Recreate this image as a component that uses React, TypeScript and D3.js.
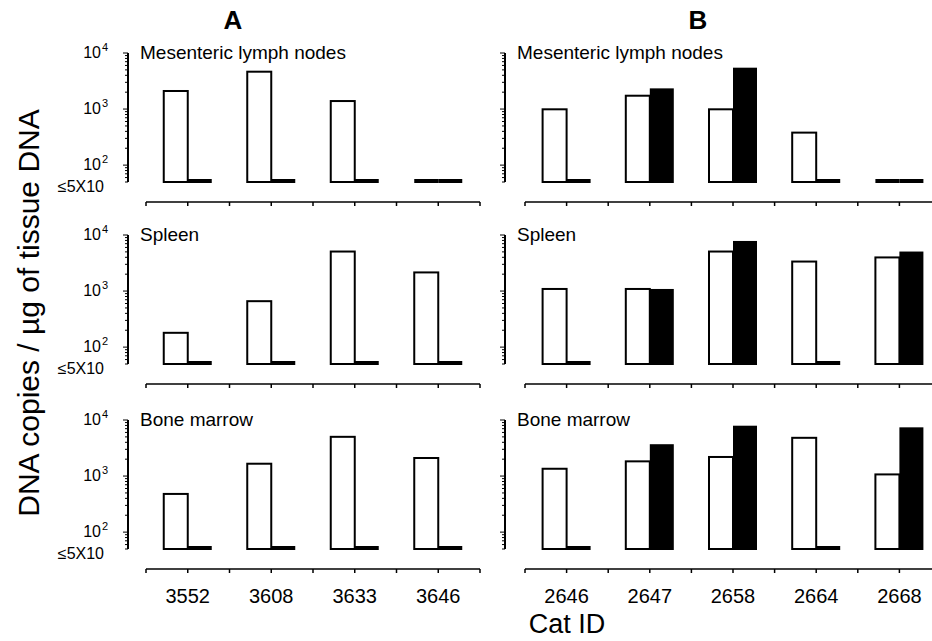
import { useEffect, useRef } from "react";
import * as d3 from "d3";

// Cat IDs per group
const catsA = ["3552", "3608", "3633", "3646"];
const catsB = ["2646", "2647", "2658", "2664", "2668"];
const tissues = ["Mesenteric lymph nodes", "Spleen", "Bone marrow"];

// DNA copies / ug; null = below detection (<=5X10)
// group A: open bars / filled bars, rows = tissues
const openA = [
  [2100, 4640, 1390, null],
  [180, 660, 5070, 2150],
  [480, 1660, 5010, 2100],
];
const filledA = [
  [null, null, null, null],
  [null, null, null, null],
  [null, null, null, null],
];
const openB = [
  [990, 1730, 990, 380, null],
  [1090, 1090, 5070, 3360, 3980],
  [1350, 1830, 2190, 4810, 1070],
];
const filledB = [
  [null, 2340, 5470, null, null],
  [null, 1090, 7830, null, 5070],
  [null, 3700, 7910, null, 7400],
];

const panelTops = [53, 235, 420];
const panelH = 129;
const font = "'Liberation Sans', Arial, Helvetica, sans-serif";

export default function App() {
  const ref = useRef<SVGSVGElement>(null);

  useEffect(() => {
    const svg = d3.select(ref.current);
    svg.selectAll("*").remove();

    const groups = [
      { cats: catsA, open: openA, filled: filledA, axisX: 128, range: [146, 480], labels: true, title: "A", tx: 233 },
      { cats: catsB, open: openB, filled: filledB, axisX: 505, range: [525, 941], labels: false, title: "B", tx: 698 },
    ];
    const barW = 24;

    groups.forEach((g) => {
      svg.append("text").attr("x", g.tx).attr("y", 29).attr("text-anchor", "middle")
        .attr("font-family", font).attr("font-weight", "bold").attr("font-size", 26).text(g.title);

      const x = d3.scaleBand().domain(g.cats).range(g.range as [number, number]);
      const bw = x.bandwidth();

      tissues.forEach((tissue, row) => {
        const top = panelTops[row];
        const base = top + panelH;
        const y = d3.scaleLog().domain([50, 10000]).range([base, top]);
        const p = svg.append("g");

        // y axis
        p.append("line").attr("x1", g.axisX).attr("x2", g.axisX).attr("y1", top).attr("y2", base)
          .attr("stroke", "#000").attr("stroke-width", 2);
        y.ticks().forEach((t) => {
          const major = Math.abs(Math.log10(t) - Math.round(Math.log10(t))) < 1e-9;
          p.append("line").attr("x1", g.axisX).attr("x2", g.axisX - (major ? 5 : 3))
            .attr("y1", y(t)).attr("y2", y(t)).attr("stroke", "#000").attr("stroke-width", 1);
        });

        if (g.labels) {
          [100, 1000, 10000].forEach((t) => {
            p.append("text").attr("x", 101).attr("y", y(t) + 5).attr("text-anchor", "end")
              .attr("font-family", font).attr("font-size", 16).text("10");
            p.append("text").attr("x", 102).attr("y", y(t) - 2).attr("font-family", font)
              .attr("font-size", 11).text(String(Math.round(Math.log10(t))));
          });
          p.append("text").attr("x", 104).attr("y", base + 10).attr("text-anchor", "end")
            .attr("font-family", font).attr("font-size", 16).text("≤5X10");
        }

        p.append("text").attr("x", g.axisX + 12).attr("y", top + 6).attr("font-family", font)
          .attr("font-size", 19).text(tissue);

        // bars
        g.cats.forEach((c, i) => {
          const cx = (x(c) as number) + bw / 2;
          const ov = g.open[row][i];
          const fv = g.filled[row][i];
          if (ov == null) {
            p.append("rect").attr("x", cx - barW).attr("y", base - 3).attr("width", barW).attr("height", 4)
              .attr("fill", "#000");
          } else {
            p.append("rect").attr("x", cx - barW).attr("y", y(ov)).attr("width", barW)
              .attr("height", base - y(ov)).attr("fill", "#fff").attr("stroke", "#000").attr("stroke-width", 2);
          }
          if (fv == null) {
            p.append("rect").attr("x", cx).attr("y", base - 3).attr("width", barW).attr("height", 4)
              .attr("fill", "#000");
          } else {
            p.append("rect").attr("x", cx).attr("y", y(fv)).attr("width", barW)
              .attr("height", base - y(fv) + 1).attr("fill", "#000");
          }
        });

        // x axis line below each panel
        const ay = base + 20;
        p.append("line").attr("x1", g.range[0]).attr("x2", g.range[1]).attr("y1", ay).attr("y2", ay)
          .attr("stroke", "#000").attr("stroke-width", 1.5);
        const tickXs = g.cats.flatMap((c) => [x(c) as number, (x(c) as number) + bw / 2]).concat([g.range[1]]);
        tickXs.forEach((tx) => {
          p.append("line").attr("x1", tx).attr("x2", tx).attr("y1", ay).attr("y2", ay + 4)
            .attr("stroke", "#000").attr("stroke-width", 1.5);
        });
        if (row === 2) {
          g.cats.forEach((c) => {
            p.append("text").attr("x", (x(c) as number) + bw / 2).attr("y", ay + 34).attr("text-anchor", "middle")
              .attr("font-family", font).attr("font-size", 20).text(c);
          });
        }
      });
    });

    svg.append("text").attr("transform", "translate(39,313) rotate(-90)").attr("text-anchor", "middle")
      .attr("font-family", font).attr("font-size", 30).text("DNA copies / µg of tissue DNA");
    svg.append("text").attr("x", 567).attr("y", 633).attr("text-anchor", "middle")
      .attr("font-family", font).attr("font-size", 27).text("Cat ID");
  }, []);

  return (
    <svg ref={ref} width={932} height={641}
      style={{ position: "absolute", left: 0, top: 0, background: "#fff" }} />
  );
}
